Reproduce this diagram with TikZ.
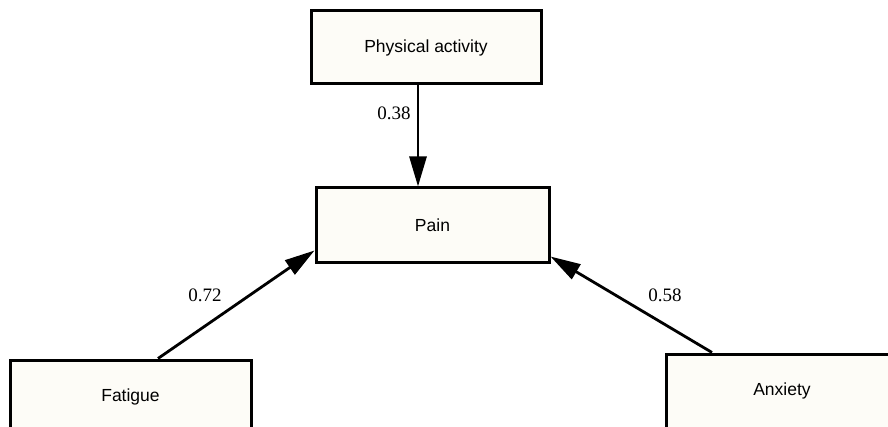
\documentclass[tikz,border=0pt]{standalone}
\usepackage{fontspec}
\setmainfont{Liberation Serif}
\setsansfont{Liberation Sans}
\usetikzlibrary{arrows.meta}
\definecolor{boxfill}{RGB}{253,252,247}
\begin{document}
\begin{tikzpicture}[x=1pt,y=-1pt,
  box/.style={draw=black, line width=3pt, fill=boxfill, rectangle, inner sep=0pt,
    font=\sffamily\fontsize{17.5}{20}\selectfont},
  conn/.style={line width=2.8pt, -{Triangle[length=30pt,width=17pt]}},
  coef/.style={font=\fontsize{19}{22}\selectfont, inner sep=0pt}]
\useasboundingbox (0,0) rectangle (888,427);
\clip (0,0) rectangle (888,427);
\fill[white] (0,0) rectangle (888,427);
\node[box, minimum width=230pt, minimum height=73pt] (pa) at (426,47.5) {Physical activity};
\node[box, minimum width=233pt, minimum height=75pt] (pain) at (432.5,225.5) {Pain};
\node[box, minimum width=241pt, minimum height=74pt] (fat) at (130.5,397) {Fatigue};
\node[box, minimum width=232pt, minimum height=74pt] (anx) at (782,391) {Anxiety};
\draw[conn] ([xshift=-8pt]pa.south) -- ([xshift=-14.5pt]pain.north);
\draw[conn] ([xshift=27.5pt]fat.north) -- ([yshift=-25pt]pain.west);
\draw[conn] ([xshift=-70pt]anx.north) -- ([yshift=-31pt]pain.east);
\node[coef] (c1) at (394,113) {0.38};
\node[coef] (c2) at (205,295) {0.72};
\node[coef] (c3) at (665,295) {0.58};
\end{tikzpicture}
\end{document}
